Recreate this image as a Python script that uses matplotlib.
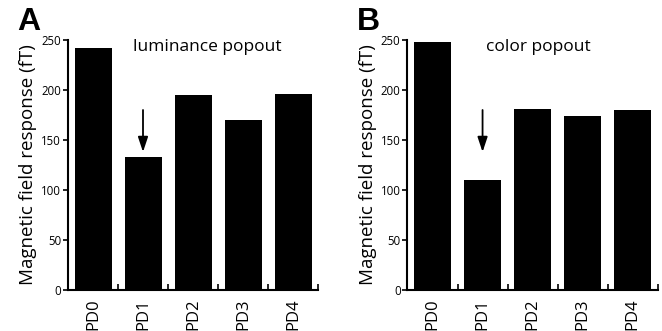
import matplotlib
matplotlib.use("Agg")
import matplotlib.pyplot as plt
from matplotlib.ticker import FixedLocator

categories = ["PD0", "PD1", "PD2", "PD3", "PD4"]
lum_values = [242, 133, 195, 170, 196]
col_values = [248, 110, 181, 174, 180]
yticks = [0, 50, 100, 150, 200, 250]
titles = ["luminance popout", "color popout"]
letters = ["A", "B"]
arrow_from = 180
arrow_to = 138

plt.rcParams['font.family'] = ['Open Sans', 'DejaVu Sans']

fig = plt.figure(figsize=(6.62, 3.31), dpi=100)
W, H = 662, 331
panels = [
    (68, 318, lum_values, titles[0], 2.28, letters[0], 17),
    (407.5, 657.7, col_values, titles[1], 2.12, letters[1], 357),
]
for left, right, vals, title, tx, letter, lx in panels:
    ax = fig.add_axes([left / W, 1 - 290 / H, (right - left) / W, 250 / H])
    x = list(range(len(categories)))
    ax.bar(x, vals, width=0.74, color="black")
    ax.set_xlim(-0.5, 4.5)
    ax.set_ylim(0, 250)
    ax.spines['top'].set_visible(False)
    ax.spines['right'].set_visible(False)
    ax.spines['left'].set_linewidth(1.5)
    ax.spines['bottom'].set_linewidth(1.5)
    ax.set_yticks(yticks)
    ax.tick_params(axis='y', labelsize=8.3, length=3.5, width=1.2, pad=1.5, direction='out')
    ax.set_xticks(x)
    ax.set_xticklabels(categories, rotation=90, fontsize=12)
    ax.tick_params(axis='x', which='major', length=0, pad=6)
    ax.xaxis.set_minor_locator(FixedLocator([0.5, 1.5, 2.5, 3.5, 4.5]))
    ax.tick_params(axis='x', which='minor', direction='in', length=4, width=1.2)
    ax.set_ylabel("Magnetic field response (fT)", fontsize=13.5, labelpad=3)
    ax.text(tx, 243, title, ha='center', va='center', fontsize=12.5)
    ax.annotate("", xy=(1, arrow_to), xytext=(1, arrow_from),
                arrowprops=dict(arrowstyle='-|>,head_length=0.9,head_width=0.3',
                                color='black', lw=1.3, shrinkA=0, shrinkB=0))
    fig.text(lx / W, 1 - 22 / H, letter, fontsize=23, fontweight='bold',
             family='Liberation Sans', ha='left', va='center')

fig.savefig("out.png", dpi=100)
